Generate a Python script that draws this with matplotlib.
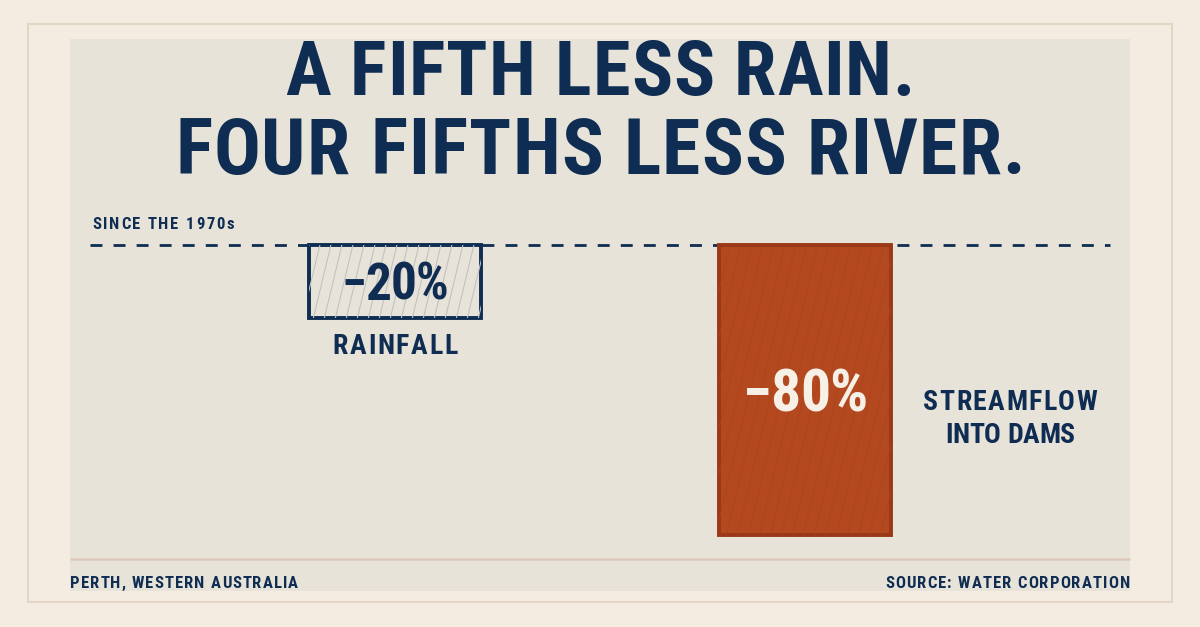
import matplotlib
matplotlib.use("Agg")
import matplotlib.pyplot as plt
from matplotlib import font_manager as fm
from matplotlib.patches import Rectangle
from matplotlib.transforms import IdentityTransform

# ---------------- data ----------------
categories = ["RAINFALL", "STREAMFLOW\nINTO DAMS"]
values = [-20, -80]
value_labels = ["\u221220%", "\u221280%"]
title_lines = ["A FIFTH LESS RAIN.", "FOUR FIFTHS LESS RIVER."]
subtitle = "SINCE THE 1970s"
footer_left = "PERTH, WESTERN AUSTRALIA"
footer_right = "SOURCE: WATER CORPORATION"

# ---------------- style ----------------
W, H, DPI = 1200, 627, 100
BG = "#F4ECE1"
PANEL = "#E8E3D9"
BORDER = "#E3D6C4"
RULE = "#DCCABC"
NAVY = "#0F2D52"
RUST = "#B4491F"
RUST_EDGE = "#9A3817"
RUST_TEX = "#AA441D"
CREAM = "#F7F0E6"
HATCH_LIGHT = "#BFC2C3"

plt.rcParams["lines.scale_dashes"] = False


def pick(fams):
    for f in fams:
        try:
            fm.findfont(fm.FontProperties(family=f, weight="bold"), fallback_to_default=False)
            return f
        except Exception:
            pass
    return "DejaVu Sans"


COND = pick(["Roboto Condensed", "PT Sans Narrow", "Liberation Sans Narrow", "Liberation Sans"])


def fp(size):
    if COND == "DejaVu Sans":
        return fm.FontProperties(family=COND, weight="bold", stretch="condensed", size=size)
    return fm.FontProperties(family=COND, weight="bold", size=size)


fig = plt.figure(figsize=(W / DPI, H / DPI), dpi=DPI, facecolor=BG)
renderer = fig.canvas.get_renderer()
ID = IdentityTransform()

# background layer in pixel coordinates (top-left origin)
bg = fig.add_axes([0, 0, 1, 1], zorder=0)
bg.set_xlim(0, W)
bg.set_ylim(H, 0)
bg.set_axis_off()
bg.add_patch(Rectangle((28, 24), 1144, 578, facecolor=BG, edgecolor=BORDER, lw=1.5))
bg.add_patch(Rectangle((70, 39), 1060, 552, facecolor=PANEL, edgecolor="none"))
bg.plot([70, 1130], [559, 559], color=RULE, lw=1.8, solid_capstyle="butt")

# chart axes
ax = fig.add_axes([90 / W, 1 - 535 / H, 1020 / W, 290 / H], zorder=1)
ax.patch.set_alpha(0)
ax.set_axis_off()
xpos = list(range(len(values)))
bar_w = 0.42
x0 = -305 / 410
ax.set_xlim(x0, x0 + 1020 / 410)
ax.set_ylim(min(values), 0)

ax.axhline(0, color=NAVY, lw=2.0, dashes=(8.6, 8.0), clip_on=False, zorder=1)

bars = ax.bar(xpos, values, width=bar_w,
              color=[PANEL, RUST], edgecolor=[NAVY, RUST_EDGE],
              linewidth=2.8, zorder=2, clip_on=False)

fig.canvas.draw()

# fine diagonal texture inside bars
tex_colors = [HATCH_LIGHT, RUST_TEX]
tex_alpha = [1.0, 0.8]
for b, tc, ta in zip(bars, tex_colors, tex_alpha):
    ext = b.get_window_extent(renderer)
    h = ext.height
    slope = 0.24
    xs = ext.x0 - h * slope
    while xs < ext.x1:
        ln, = ax.plot([xs, xs + h * slope], [ext.y0, ext.y1], color=tc, lw=0.8,
                      alpha=ta, transform=ID, zorder=2.5)
        ln.set_clip_path(b)
        xs += 11


def _w(s, prop):
    t = fig.text(0, 0, s, fontproperties=prop, transform=ID)
    w = t.get_window_extent(renderer).width
    t.remove()
    return w


def spaced(x, y, s, prop, color, ha="left", width=None, spacing=0.0, zorder=5):
    """Letter-spaced text; x, y in display pixels (bottom-left origin), y = baseline."""
    hh = _w("HH", prop)
    adv = [_w("H" + c + "H", prop) - hh for c in s]
    n = len(s)
    natural = sum(adv)
    if width is not None and n > 1:
        spacing = max((width - natural) / (n - 1), -1.0)
    total = natural + spacing * (n - 1)
    cx = x - {"left": 0, "center": total / 2, "right": total}[ha]
    for c, a in zip(s, adv):
        if c != " ":
            fig.text(cx, y, c, fontproperties=prop, color=color, transform=ID,
                     ha="left", va="baseline", zorder=zorder)
        cx += a + spacing


def cap_px(size):
    return size / 72 * DPI * 0.711


# title
spaced(600, H - 95, title_lines[0], fp(55), NAVY, ha="center", width=630)
spaced(600, H - 174, title_lines[1], fp(56), NAVY, ha="center", width=850)
# subtitle and footers
spaced(92, H - 229, subtitle, fp(12), NAVY, ha="left", width=142)
spaced(70, H - 588, footer_left, fp(12), NAVY, ha="left", width=228)
spaced(1130, H - 588, footer_right, fp(12), NAVY, ha="right", width=245)

# value labels inside bars
val_sizes = [37, 43]
val_colors = [NAVY, CREAM]
val_widths = [104, 120]
for xi, v, lab, s, c, wd in zip(xpos, values, value_labels, val_sizes, val_colors, val_widths):
    cxd, cyd = ax.transData.transform((xi, v / 2))
    spaced(cxd, cyd - cap_px(s) / 2, lab, fp(s), c, ha="center", width=wd)

# category labels
# rainfall: below the bar
bx, by = ax.transData.transform((xpos[0], values[0]))
spaced(bx, by - 37, categories[0], fp(20), NAVY, ha="center", width=125)
# streamflow: beside the bar
sx, sy = ax.transData.transform((xpos[1] + 0.5, values[1] / 2))
lines = categories[1].split("\n")
spaced(sx, sy - 20, lines[0], fp(20), NAVY, ha="center", width=174)
spaced(sx, sy - 53, lines[1], fp(20), NAVY, ha="center", width=130)

fig.savefig("out.png", dpi=DPI, facecolor=BG)
